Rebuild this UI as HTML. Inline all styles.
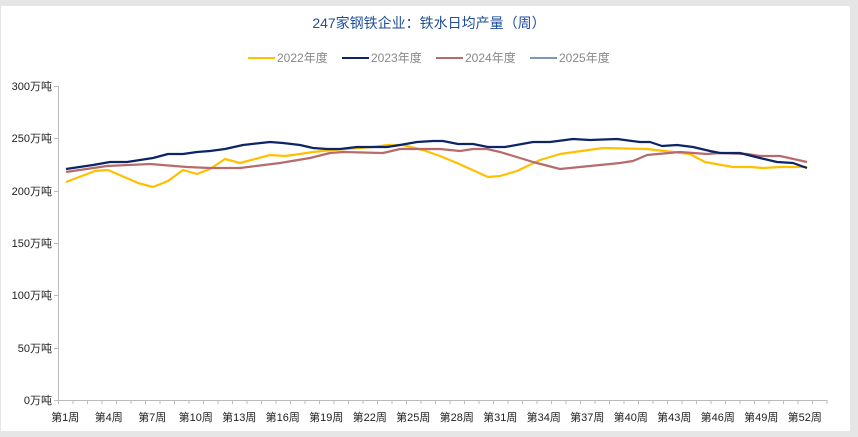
<!DOCTYPE html>
<html><head><meta charset="utf-8"><style>
body{margin:0;background:#e6e6e6;width:858px;height:437px;overflow:hidden}
svg{display:block;font-family:"Liberation Sans","Noto Sans CJK SC",sans-serif}
</style></head><body>
<svg width="858" height="437" viewBox="0 0 858 437">
<rect x="0" y="0" width="858" height="437" fill="#e6e6e6"/>
<rect x="1" y="6" width="849" height="425" fill="#fff"/>
<text x="429" y="28" text-anchor="middle" font-size="14" fill="#1f4e9a">247家钢铁企业：铁水日均产量（周）</text>
<g font-size="12" fill="#888">
<line x1="248" y1="58" x2="275" y2="58" stroke="#ffc000" stroke-width="2"/><text x="277" y="62">2022年度</text>
<line x1="342" y1="58" x2="369" y2="58" stroke="#0b2566" stroke-width="2"/><text x="371" y="62">2023年度</text>
<line x1="436" y1="58" x2="463" y2="58" stroke="#b86b6b" stroke-width="2"/><text x="465" y="62">2024年度</text>
<line x1="530" y1="58" x2="557" y2="58" stroke="#7f96ba" stroke-width="2"/><text x="559" y="62">2025年度</text>
</g>
<g stroke="#bbb" stroke-width="1">
<line x1="58.5" y1="86" x2="58.5" y2="400"/>
<line x1="58" y1="400.5" x2="827" y2="400.5"/>
<line x1="54" y1="86.5" x2="58" y2="86.5"/><line x1="54" y1="138.5" x2="58" y2="138.5"/><line x1="54" y1="191.5" x2="58" y2="191.5"/><line x1="54" y1="243.5" x2="58" y2="243.5"/><line x1="54" y1="295.5" x2="58" y2="295.5"/><line x1="54" y1="348.5" x2="58" y2="348.5"/><line x1="54" y1="400.5" x2="58" y2="400.5"/>
</g>
<g id="xt" stroke="#bbb"></g>
<g font-size="11" fill="#222" text-anchor="end">
<text x="52" y="90">300万吨</text><text x="52" y="142">250万吨</text><text x="52" y="195">200万吨</text><text x="52" y="247">150万吨</text><text x="52" y="299">100万吨</text><text x="52" y="352">50万吨</text><text x="52" y="404">0万吨</text>
</g>
<g font-size="11" fill="#222" text-anchor="middle" id="xl"></g>
<g fill="none" stroke-width="2.2" stroke-linejoin="round">
<polyline stroke="#ffc000" points="66,182 95,171 108,170 138,183 153,187 168,181 183,170 197,174 210,169 225,159 240,163 270,155 285,156 300,154 313,152 333,150 373,147 387,145 403,145 423,150 440,156 457,163 488,177 500,176 517,171 540,160 560,154 603,148 647,149 673,152 690,154 705,162 733,167 750,167 763,168 780,167 807,167"/>
<polyline stroke="#b86b6b" points="66,172 107,166 150,164 187,167 210,168 240,168 280,163 310,158 330,153 343,152 383,153 400,149 440,149 460,151 473,149 487,149 500,152 520,158 533,162 560,169 580,167 620,163 633,161 647,155 680,152 707,154 720,153 747,154 760,156 780,156 807,162"/>
<polyline stroke="#0b2566" points="66,169 93,165 110,162 127,162 153,158 168,154 183,154 197,152 210,151 225,149 243,145 270,142 283,143 300,145 313,148 327,149 340,149 357,147 387,147 400,145 417,142 433,141 443,141 458,144 473,144 488,147 505,147 533,142 550,142 573,139 590,140 617,139 640,142 650,142 662,146 677,145 693,147 710,151 720,153 740,153 760,158 777,162 793,163 807,168"/>
</g>
</svg>
<script>
var ns="http://www.w3.org/2000/svg",xt=document.getElementById("xt"),xl=document.getElementById("xl");
for(var i=0;i<=53;i++){var x=58+i*14.5;var l=document.createElementNS(ns,"line");l.setAttribute("x1",x+.5);l.setAttribute("x2",x+.5);l.setAttribute("y1",400);l.setAttribute("y2",404);xt.appendChild(l);}
for(var w=1;w<=52;w+=3){var t=document.createElementNS(ns,"text");t.setAttribute("x",58+(w-0.5)*14.5);t.setAttribute("y",421);t.textContent="第"+w+"周";xl.appendChild(t);}
</script>
</body></html>
